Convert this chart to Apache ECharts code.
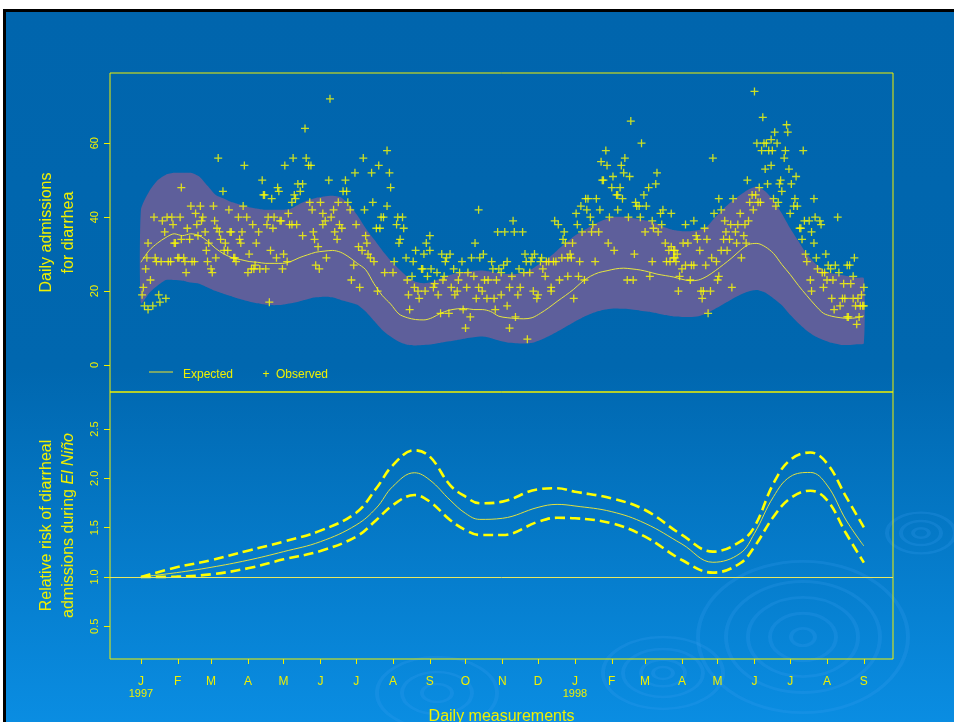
<!DOCTYPE html>
<html><head><meta charset="utf-8">
<script src="https://cdn.jsdelivr.net/npm/echarts@6/dist/echarts.min.js"></script>
<style>
html,body{margin:0;padding:0;background:#fff;width:954px;height:722px;overflow:hidden}
#frame{position:absolute;left:3px;top:9px;width:951px;height:713px;background:#000}
#bg{position:absolute;left:6px;top:12px;width:948px;height:710px;background:linear-gradient(to bottom,#0065ad 0%,#0067af 50%,#0a8de2 100%)}
#chart{position:absolute;left:0;top:0;width:954px;height:722px}
</style></head>
<body>
<div id="frame"></div><div id="bg"></div><div id="chart"></div>
<script>
// ---- Month ticks (day index from 1 Jan 1997) ----
const monthDays   = [0,31,59,90,120,151,181,212,243,273,304,334,365,396,424,455,485,516,546,577,608];
const monthLabels = ['J','F','M','A','M','J','J','A','S','O','N','D','J','F','M','A','M','J','J','A','S'];
const yearLabels  = {0:'1997', 365:'1998'};

// ---- Top panel: expected & prediction band (weekly) ----
const bandDays = [0,7,14,21,28,35,42,49,56,63,70,77,84,91,98,105,112,119,126,133,140,147,154,161,168,175,182,189,196,203,210,217,224,231,238,245,252,259,266,273,280,287,294,301,308,315,322,329,336,343,350,357,364,371,378,385,392,399,406,413,420,427,434,441,448,455,462,469,476,483,490,497,504,511,518,525,532,539,546,553,560,567,574,581,588,595,602,608];
const expected = [27.8,31,33,34.5,35.5,35,35.5,35,33.5,31.5,30,29,28.5,28,27.8,27.5,27.5,27.5,28,29,29.8,30.5,30.8,31,30.5,29.2,27.5,25.8,22,18.8,16.5,13.8,12.8,12.3,12.2,12.8,14,14.8,15.2,15.3,15,15,14.5,13.2,12.8,12.6,12.5,12.8,14,15.5,17.2,18.8,20.5,22.5,24,25,25.5,26,26.2,26,25.7,25.2,24.6,24.2,23.8,23.2,22.8,23,24,25.5,27.2,29,31,32.6,32.9,32,30.2,27.2,24.5,21.5,18.8,16.2,14,13.2,12.8,12.6,12.8,13.3];
const bandUpper = [42,47,50,51.5,52,52,52,51,48.5,46,45,44,43.3,42.7,42.3,42,42,42,42.3,43.5,44.5,45.2,45.6,45.8,45.4,43.5,40.5,37,34,31,28.3,26,23.9,22.5,22.1,22.5,23.5,24.3,24.8,25.2,25.5,25.6,25.3,24.8,24.6,24.6,25,26,27.5,29,31,33,34.8,36.2,37.5,38.7,39.6,40.1,40.1,39.8,39.4,39,38.2,37.2,36.5,36.2,36.2,36.5,37.5,40,42.3,44.3,46,47.5,48.3,47,44.5,41,37,33.5,30,27.5,25.7,24.8,24.4,24,23.6,23.5];
const bandLower = [16.7,19.5,21.5,23,23,22.8,22.3,22,21,20,19.2,18.5,17.8,17.2,16.7,16.3,16.2,16.3,16.7,17.2,17.8,18.3,18.5,18.3,17.6,17,16.3,14.5,12,9.5,7.7,6.3,5.5,5.3,5.4,5.6,6,6.4,6.8,7.2,7.5,7.7,7.3,6.6,6.1,5.9,5.8,6,6.8,7.8,9,10.3,11.6,12.8,13.8,14.6,15.1,15.3,15.2,15,14.7,14.4,14,13.5,13.1,13,13,13.2,14,15.2,16.5,17.8,19,19.9,20.3,19.6,18,16.2,13.6,11.3,9.3,7.8,6.8,6,5.5,5.4,5.6,5.9];

// ---- Top panel: observed daily admissions ----
const obsDays = [1,2,3,4,6,5,6,8,10,12,11,13,15,16,17,18,20,21,22,23,25,26,27,28,29,31,32,33,34,34,36,37,38,39,41,42,43,45,46,47,48,50,51,52,54,55,56,57,59,60,61,62,63,64,65,66,67,69,70,71,73,74,75,76,78,79,80,82,83,84,85,86,87,89,90,91,93,94,95,96,97,99,100,102,103,104,105,106,107,108,109,110,111,112,114,115,116,117,118,119,120,121,123,124,125,127,128,129,130,131,132,
127,134,136,138,136,139,141,142,143,144,145,146,147,149,150,151,153,153,155,156,158,159,160,162,163,165,166,167,169,170,172,173,174,176,177,179,180,181,183,184,186,187,188,189,190,191,193,194,195,196,198,199,200,201,202,204,205,207,207,209,210,212,213,215,216,217,218,220,221,223,224,225,226,228,229,230,231,233,234,236,237,238,239,240,241,243,243,244,246,247,249,250,252,253,254,255,256,257,259,260,261,263,264,266,267,268,270,271,273,274,275,277,278,280,281,282,284,284,285,287,288,289,291,292,
295,296,297,298,299,300,301,303,303,305,306,308,308,310,310,312,313,314,315,317,318,319,321,322,323,324,325,327,328,329,330,331,333,334,336,337,338,340,341,343,345,345,347,348,349,351,352,354,355,356,357,359,359,361,362,363,364,366,367,368,369,370,371,373,374,375,376,378,379,380,382,383,385,386,387,388,389,391,392,393,394,396,397,398,400,401,401,403,404,405,406,407,409,410,411,412,414,415,416,417,419,420,421,423,424,425,427,428,430,430,431,433,434,435,437,438,439,441,442,444,445,446,448,449,451,452,
446,448,449,450,453,455,456,458,458,460,462,463,465,465,467,468,470,471,472,473,474,475,476,477,479,480,481,482,484,485,486,486,488,488,490,491,492,493,495,496,497,498,500,501,502,504,505,507,508,509,510,511,512,514,515,516,517,518,519,520,521,522,523,524,525,526,527,528,530,530,531,532,533,534,535,536,537,538,539,541,542,543,544,545,546,547,549,550,551,552,554,555,556,557,558,559,560,562,563,564,564,566,566,567,568,569,571,572,573,574,575,576,577,578,580,581,582,583,584,586,587,588,590,591,592,594,594,595,596,597,599,599,600,601,602,603,604,605,606,607,608,608];
const obsCounts = [19,21,16,26,15,29,33,23,16,29,40,28,19,17,28,39,36,18,40,28,28,40,38,33,33,29,29,40,48,34,29,28,25,37,34,43,28,28,41,38,35,43,39,40,36,31,28,33,26,25,43,39,29,37,56,36,34,47,31,33,31,42,36,36,29,29,28,40,34,33,36,43,54,40,25,30,26,38,26,27,33,36,26,50,46,46,26,38,40,17,31,45,37,40,29,48,47,39,39,26,30,54,28,41,38,44,56,46,45,38,49,
38,47,49,64,35,56,54,44,54,42,36,34,27,32,26,44,38,41,39,29,50,72,40,42,36,34,44,38,37,47,50,47,44,42,23,27,52,38,32,21,31,56,42,35,33,30,29,52,44,28,37,20,54,37,40,40,25,43,58,52,48,25,28,38,40,33,34,40,37,29,23,19,15,24,28,21,31,20,18,26,26,30,20,33,24,31,35,26,21,22,25,19,14,30,23,24,28,29,14,30,21,26,19,20,23,25,28,15,10,21,25,13,29,24,33,18,21,42,29,20,30,23,18,23,
28,26,18,15,23,36,26,19,25,27,36,28,16,21,10,24,39,36,13,19,26,21,36,25,30,28,7,25,28,29,20,30,18,19,28,29,26,24,28,28,21,20,28,39,28,38,23,29,34,36,33,29,24,30,29,33,18,41,38,24,28,43,36,23,45,42,45,40,36,38,28,45,36,42,55,50,50,58,54,33,40,48,51,31,46,42,46,48,54,45,52,56,23,40,51,66,23,30,44,43,43,40,60,46,36,43,48,24,39,28,37,49,52,36,41,38,42,33,28,31,28,41,31,29,30,20,
32,29,31,28,24,26,33,38,27,33,23,27,39,27,35,34,31,20,18,20,37,27,34,14,20,29,56,41,28,23,24,45,42,31,34,39,36,31,34,38,21,45,36,33,38,41,29,35,38,33,50,39,44,46,42,74,46,60,44,48,44,58,67,60,53,60,49,58,54,61,58,45,63,43,60,44,49,50,47,56,58,65,63,53,41,49,43,45,51,43,37,37,34,58,39,30,28,39,23,20,36,33,45,40,29,26,39,38,25,21,25,30,23,27,26,18,23,15,27,40,25,16,18,22,18,27,13,13,27,22,18,24,29,16,11,18,13,16,19,16,21,16];

// ---- Bottom panel: relative risk during El Niño ----
const rrDays  = [0,30,59,90,120,151,181,198,212,230,243,260,273,285,304,334,350,365,396,424,455,481,504,516,532,546,563,577,593,608];
const rrMid   = [1.0,1.044,1.098,1.17,1.257,1.358,1.527,1.70,1.92,2.057,1.983,1.78,1.645,1.584,1.595,1.706,1.736,1.72,1.662,1.544,1.334,1.149,1.24,1.443,1.814,2.017,2.06,1.932,1.578,1.314];
const rrUpper = [1.0,1.098,1.17,1.267,1.358,1.47,1.652,1.90,2.135,2.285,2.22,1.932,1.814,1.747,1.764,1.889,1.90,1.865,1.797,1.679,1.426,1.257,1.358,1.51,1.949,2.186,2.262,2.152,1.814,1.503];
const rrLower = [1.0,1.003,1.027,1.088,1.179,1.264,1.409,1.578,1.73,1.831,1.764,1.578,1.476,1.426,1.426,1.56,1.60,1.595,1.544,1.409,1.172,1.044,1.139,1.307,1.611,1.797,1.875,1.78,1.443,1.145];

const Y = '#f0f000';
const FONT = 'Liberation Sans, Arial, sans-serif';
const zip = (a, b) => a.map((v, i) => [v, b[i]]);
const PLUS = 'path://M4.2,0h1.6v4.2h4.2v1.6h-4.2v4.2h-1.6v-4.2h-4.2v-1.6h4.2z';

function ripple(cx, cy, radii, sy) {
  return radii.map(r => ({type:'circle', shape:{cx, cy, r}, scaleY: sy, originX: cx, originY: cy, z: -10, silent:true,
    style:{fill:'none', stroke:'rgba(60,160,240,0.22)', lineWidth:4}}));
}

const chart = echarts.init(document.getElementById('chart'), null, {renderer:'canvas'});
chart.setOption({
  backgroundColor: 'transparent',
  animation: false,
  textStyle: {fontFamily: FONT},
  graphic: [
    ...ripple(803, 637, [12, 33, 55, 77, 105], 0.72),
    ...ripple(663, 673, [10, 22, 40, 60], 0.6),
    ...ripple(921, 533, [8, 20, 34], 0.6),
    ...ripple(437, 693, [15, 35, 60], 0.6),
    {type:'line', shape:{x1:149, y1:372, x2:173, y2:372}, style:{stroke:'#c8d040', lineWidth:1.2}},
    {type:'text', x:183, y:375, style:{text:'Expected', fill:Y, font:'12px ' + FONT, verticalAlign:'middle'}},
    {type:'text', x:266, y:375, style:{text:'+', fill:Y, font:'12px ' + FONT, align:'center', verticalAlign:'middle'}},
    {type:'text', x:276, y:375, style:{text:'Observed', fill:Y, font:'12px ' + FONT, verticalAlign:'middle'}}
  ],
  grid: [
    {left:110, top:73, width:783, height:319, show:true, borderColor:Y, borderWidth:1, backgroundColor:'transparent', outerBoundsMode:'none', containLabel:false},
    {left:110, top:392, width:783, height:267, show:true, borderColor:Y, borderWidth:1, backgroundColor:'transparent', outerBoundsMode:'none', containLabel:false}
  ],
  xAxis: [
    {gridIndex:0, type:'value', min:-26, max:632.5, show:false, axisLine:{onZero:false}},
    {gridIndex:1, type:'value', min:-26, max:632.5,
      axisLine:{show:false, onZero:false}, splitLine:{show:false},
      axisTick:{show:true, customValues: monthDays, length:5, lineStyle:{color:Y, width:1}},
      axisLabel:{customValues: monthDays, color:Y, fontSize:12, margin:16, lineHeight:13,
        formatter: v => { const i = monthDays.indexOf(v); const l = i >= 0 ? monthLabels[i] : '';
          return yearLabels[v] ? '{m|' + l + '}\n{y|' + yearLabels[v] + '}' : '{m|' + l + '}'; },
        rich:{m:{color:Y, fontSize:12, lineHeight:13, fontFamily:FONT}, y:{color:Y, fontSize:11, lineHeight:12, fontFamily:FONT}}},
      name:'Daily measurements', nameLocation:'middle', nameGap:50,
      nameTextStyle:{color:Y, fontSize:16, fontFamily:FONT}}
  ],
  yAxis: [
    {gridIndex:0, type:'value', min:-7.3, max:79,
      axisLine:{show:false, onZero:false}, splitLine:{show:false},
      axisTick:{show:true, customValues:[0,20,40,60], length:6, lineStyle:{color:Y}},
      axisLabel:{customValues:[0,20,40,60], rotate:90, color:Y, fontSize:11, margin:10},
      name:'Daily admissions\nfor diarrhea', nameLocation:'middle', nameRotate:90, nameGap:30,
      nameTextStyle:{color:Y, fontSize:16, lineHeight:22, fontFamily:FONT}},
    {gridIndex:1, type:'value', min:0.168, max:2.876,
      axisLine:{show:false, onZero:false}, splitLine:{show:false},
      axisTick:{show:true, customValues:[0.5,1,1.5,2,2.5], length:6, lineStyle:{color:Y}},
      axisLabel:{customValues:[0.5,1,1.5,2,2.5], rotate:90, color:Y, fontSize:11, margin:10, formatter: v => v.toFixed(1)},
      name:'{a|Relative risk of diarrheal}\n{a|admissions during }{i|El Niño}', nameLocation:'middle', nameRotate:90, nameGap:30,
      nameTextStyle:{color:Y, fontSize:16, lineHeight:22, fontFamily:FONT,
        rich:{a:{color:Y, fontSize:16, lineHeight:22, fontFamily:FONT}, i:{color:Y, fontSize:16, lineHeight:22, fontStyle:'italic', fontFamily:FONT}}}}
  ],
  series: [
    {type:'custom', xAxisIndex:0, yAxisIndex:0, silent:true, z:1, data:[0],
      renderItem: (params, api) => {
        const up = bandDays.map((d, i) => api.coord([d, bandUpper[i]]));
        const lo = bandDays.map((d, i) => api.coord([d, bandLower[i]])).reverse();
        return {type:'polygon', shape:{points: up.concat(lo), smooth:0.2}, style:{fill:'#5e5f9b'}};
      }},
    {type:'line', xAxisIndex:0, yAxisIndex:0, data: zip(bandDays, expected), symbol:'none', smooth:0.3,
      lineStyle:{color:'#e6e640', width:1}, z:3},
    {type:'scatter', xAxisIndex:0, yAxisIndex:0, data: zip(obsDays, obsCounts), symbol: PLUS, symbolSize:8,
      itemStyle:{color:'#ffff00'}, z:4},
    {type:'line', xAxisIndex:1, yAxisIndex:1, data: zip(rrDays, rrMid), symbol:'none', smooth:0.4,
      lineStyle:{color:'#e0e040', width:1}, z:3,
      markLine:{silent:true, symbol:'none', label:{show:false}, lineStyle:{color:'#e8e860', width:1, type:'solid'},
        data:[{yAxis:1}]}},
    {type:'line', xAxisIndex:1, yAxisIndex:1, data: zip(rrDays, rrUpper), symbol:'none', smooth:0.4,
      lineStyle:{color:'#ffff00', width:2.6, type:[10,5]}, z:3},
    {type:'line', xAxisIndex:1, yAxisIndex:1, data: zip(rrDays, rrLower), symbol:'none', smooth:0.4,
      lineStyle:{color:'#ffff00', width:2.6, type:[10,5]}, z:3}
  ]
});
</script>
</body></html>
